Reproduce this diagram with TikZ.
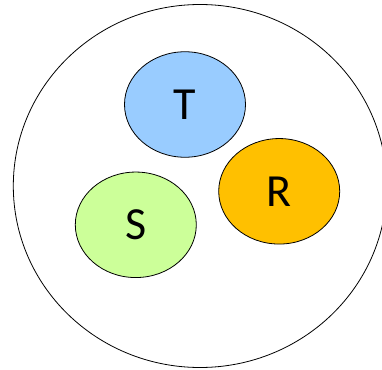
\documentclass[tikz,border=0pt]{standalone}
\usepackage{fontspec}
\setmainfont{Carlito}
\usetikzlibrary{shapes.geometric}
\definecolor{tblue}{HTML}{99CCFF}
\definecolor{rorange}{HTML}{FFC000}
\definecolor{sgreen}{HTML}{CCFF99}
\begin{document}
\begin{tikzpicture}[x=1pt,y=-1pt,
  setbox/.style={ellipse, draw=black, line width=0.8pt, inner sep=0pt,
    minimum width=121pt, minimum height=105.5pt, font=\fontsize{46}{46}\selectfont},
  outer/.style={ellipse, draw=black, line width=0.8pt, inner sep=0pt,
    minimum width=373.4pt, minimum height=363pt}]
\useasboundingbox (0,0) rectangle (382,369);
\fill[white] (0,0) rectangle (382,369);
\node[outer] (U) at (200,186) {};
\node[setbox, fill=tblue] (T) at (185,104.5) {T};
\node[setbox, fill=rorange] (R) at (279.2,191.3) {R};
\node[setbox, fill=sgreen] (S) at (135.8,224.8) {S};
\end{tikzpicture}
\end{document}
